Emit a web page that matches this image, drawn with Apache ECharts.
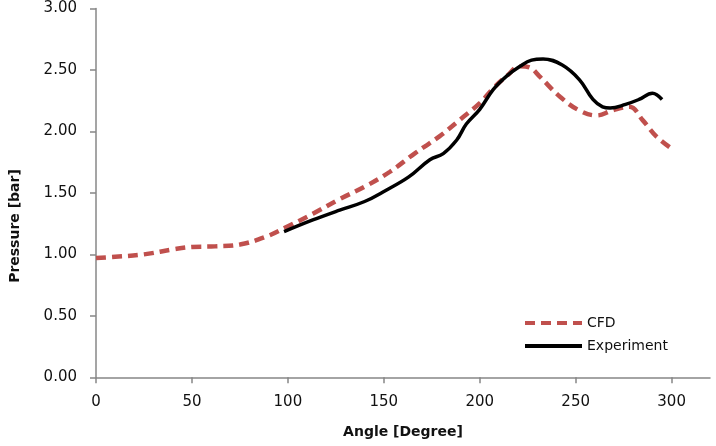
<!DOCTYPE html>
<html lang="en">
    <head>
        <meta charset="UTF-8">
        <script src="https://cdn.jsdelivr.net/npm/echarts@6/dist/echarts.min.js"></script>
        <title>Pressure vs Angle</title>
    </head>
    <body style="margin:0">
        <div id="chart-container" style="width: 716px; height: 446px;"></div>

        <script>
            // CFD curve, angle [deg] and pressure [bar]
            const cfdAngle = [0, 10, 25, 40, 50, 62, 75, 88, 99, 113, 127, 140, 153, 166, 179, 190, 200, 207, 214, 221, 226, 231, 242, 252, 261, 269, 278, 285, 292, 300];
            const cfdPressure = [0.97, 0.98, 1.00, 1.04, 1.06, 1.065, 1.08, 1.14, 1.22, 1.33, 1.45, 1.55, 1.67, 1.82, 1.96, 2.10, 2.23, 2.35, 2.45, 2.53, 2.52, 2.45, 2.28, 2.17, 2.13, 2.17, 2.20, 2.09, 1.96, 1.86];

            // Experiment curve
            const expAngle = [98, 113, 127, 140, 151, 163, 174, 181, 188, 193, 200, 207, 214, 221, 227, 233, 243, 252, 259, 264, 268, 276, 283, 290, 295];
            const expPressure = [1.185, 1.28, 1.36, 1.43, 1.52, 1.63, 1.77, 1.82, 1.93, 2.06, 2.18, 2.34, 2.45, 2.53, 2.58, 2.59, 2.54, 2.42, 2.26, 2.20, 2.19, 2.22, 2.26, 2.31, 2.26];

            const chart = echarts.init(document.getElementById('chart-container'));
            const font = 'DejaVu Sans';
            const axisGray = '#878787';

            const options = {
                animation: false,
                grid: { left: 96, right: 6, top: 8.5, bottom: 68.7 },
                legend: {
                    orient: 'vertical',
                    left: 518,
                    top: 311,
                    itemWidth: 57,
                    itemHeight: 12,
                    itemGap: 9,
                    itemStyle: { opacity: 0 },
                    lineStyle: { width: 4 },
                    textStyle: { fontFamily: font, fontSize: 14, color: '#111' },
                    data: ['CFD', 'Experiment']
                },
                xAxis: {
                    type: 'value',
                    min: 0,
                    max: 320,
                    interval: 50,
                    name: 'Angle [Degree]',
                    nameLocation: 'middle',
                    nameGap: 48,
                    nameTextStyle: { fontFamily: font, fontSize: 14, fontWeight: 'bold', color: '#111' },
                    axisLine: { lineStyle: { color: axisGray, width: 1.5 } },
                    axisTick: { length: 6, lineStyle: { color: axisGray, width: 1.5 } },
                    axisLabel: {
                        margin: 17,
                        fontFamily: font,
                        fontSize: 15,
                        color: '#111',
                        showMaxLabel: false,
                        formatter: v => (v % 50 === 0 ? String(v) : '')
                    },
                    splitLine: { show: false }
                },
                yAxis: {
                    type: 'value',
                    min: 0,
                    max: 3,
                    interval: 0.5,
                    axisLine: { show: true, lineStyle: { color: axisGray, width: 1.5 } },
                    axisTick: { show: true, length: 6, lineStyle: { color: axisGray, width: 1.5 } },
                    axisLabel: {
                        margin: 19,
                        fontFamily: font,
                        fontSize: 15,
                        color: '#111',
                        formatter: v => v.toFixed(2)
                    },
                    splitLine: { show: false }
                },
                graphic: [{
                    type: 'text',
                    x: 15,
                    y: 226,
                    rotation: Math.PI / 2,
                    style: {
                        text: 'Pressure [bar]',
                        fontFamily: font,
                        fontSize: 14,
                        fontWeight: 'bold',
                        fill: '#111',
                        align: 'center',
                        verticalAlign: 'middle'
                    }
                }],
                series: [
                    {
                        name: 'CFD',
                        type: 'line',
                        smooth: 0.4,
                        symbol: 'none',
                        data: cfdAngle.map((a, i) => [a, cfdPressure[i]]),
                        lineStyle: { color: '#c0504d', width: 4.5, type: [10, 6] },
                        itemStyle: { color: '#c0504d' }
                    },
                    {
                        name: 'Experiment',
                        type: 'line',
                        smooth: 0.4,
                        symbol: 'none',
                        data: expAngle.map((a, i) => [a, expPressure[i]]),
                        lineStyle: { color: '#000', width: 3.5 },
                        itemStyle: { color: '#000' }
                    }
                ]
            };
            chart.setOption(options);
        </script>
    </body>
</html>
